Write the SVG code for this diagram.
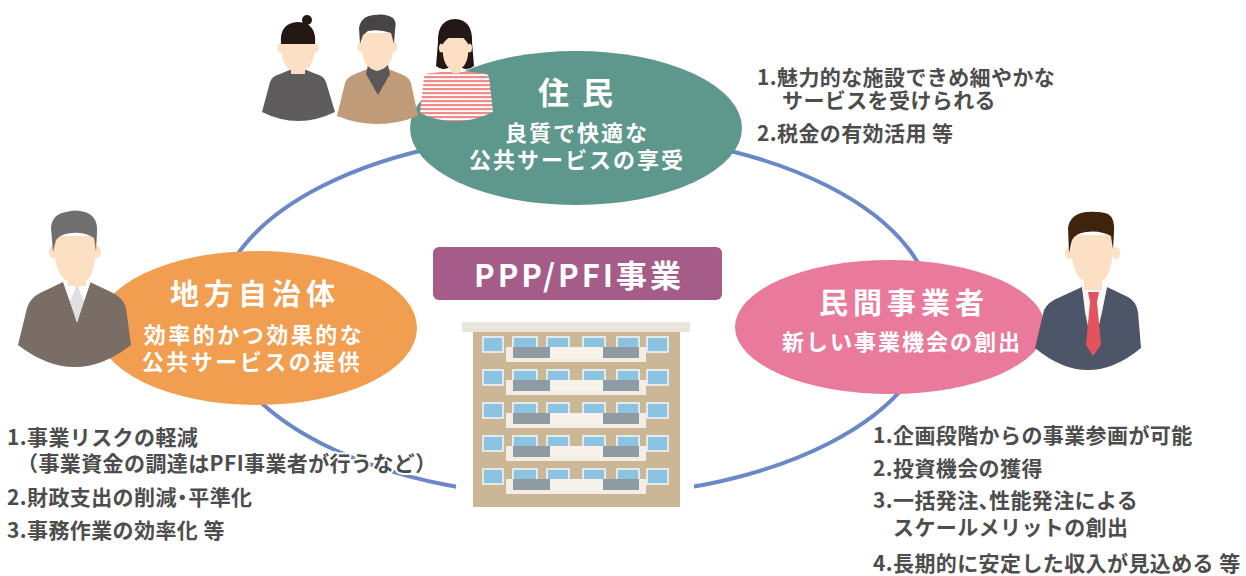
<svg xmlns="http://www.w3.org/2000/svg" width="1246" height="576" viewBox="0 0 1246 576">
  <defs>
    <style>
      .skin { fill: #fde0c3; }
      .title { font-family: "Noto Sans CJK JP", "Noto Sans", sans-serif; font-weight: 700; fill: #ffffff; text-anchor: middle; }
      .note { font-family: "Noto Sans CJK JP", "Noto Sans", sans-serif; font-weight: 700; fill: #4d4d4d; font-size: 21px; letter-spacing: 0.4px; stroke: #ffffff; stroke-width: 4px; paint-order: stroke; stroke-linejoin: round; }
      .win { fill: #8cc3e0; stroke: #eef5f8; stroke-width: 1.6; }
      .balc { fill: #f3ede3; }
      .rail { fill: #8e9ba3; }
    </style>
    <pattern id="stripes" width="10" height="4" patternUnits="userSpaceOnUse">
      <rect width="10" height="4" fill="#ffffff"/>
      <rect width="10" height="2.2" fill="#f08b8b"/>
    </pattern>
    <filter id="soft" x="-5%" y="-5%" width="110%" height="110%">
      <feGaussianBlur stdDeviation="0.7"/>
    </filter>
  </defs>

  <rect width="1246" height="576" fill="#ffffff"/>

  <!-- connectors: the ring linking the three parties -->
  <g id="connectors">
    <ellipse cx="575" cy="315" rx="358" ry="182" fill="none" stroke="#6a88c8" stroke-width="4"/>
  </g>

  <!-- building -->
  <g id="building">
    <rect x="456" y="316" width="238" height="196" fill="#ffffff"/>
    <g filter="url(#soft)">
      <rect x="462" y="322" width="228" height="10" fill="#e9e5dd"/>
      <rect x="473" y="332" width="207" height="175" fill="#cbb696"/>
      <g id="floor">
        <rect class="win" x="483" y="337" width="20" height="15"/>
        <rect class="win" x="513" y="337" width="24" height="15"/>
        <rect class="win" x="547" y="337" width="22" height="15"/>
        <rect class="win" x="583" y="337" width="22" height="15"/>
        <rect class="win" x="617" y="337" width="22" height="15"/>
        <rect class="win" x="647" y="337" width="21" height="15"/>
        <rect class="balc" x="506" y="347" width="140" height="15"/>
        <rect class="rail" x="513" y="347" width="37" height="11"/>
        <rect class="rail" x="603" y="347" width="36" height="11"/>
        <rect x="550" y="347" width="53" height="11" fill="#f7f3ec"/>
      </g>
      <use href="#floor" y="33"/>
      <use href="#floor" y="66"/>
      <use href="#floor" y="99"/>
      <use href="#floor" y="132"/>
    </g>
  </g>

  <!-- residents -->
  <g id="node-residents">
    <ellipse cx="576" cy="128" rx="166" ry="77" fill="#5e978b"/>
    <text class="title" x="577" y="104" font-size="31" letter-spacing="3">住 民</text>
    <text class="title" x="577" y="141" font-size="22" letter-spacing="2">良質で快適な</text>
    <text class="title" x="577" y="168" font-size="22" letter-spacing="2">公共サービスの享受</text>
  </g>

  <!-- local government -->
  <g id="node-government">
    <ellipse cx="257" cy="328" rx="160" ry="77" fill="#f19e50"/>
    <text class="title" x="255" y="305" font-size="29" letter-spacing="5">地方自治体</text>
    <text class="title" x="254" y="343" font-size="22" letter-spacing="2.5">効率的かつ効果的な</text>
    <text class="title" x="252" y="370" font-size="22" letter-spacing="2.5">公共サービスの提供</text>
  </g>

  <!-- private operator -->
  <g id="node-operator">
    <ellipse cx="890" cy="327" rx="155" ry="67" fill="#e97a9b"/>
    <text class="title" x="904" y="314" font-size="29" letter-spacing="5">民間事業者</text>
    <text class="title" x="902" y="350" font-size="22" letter-spacing="2">新しい事業機会の創出</text>
  </g>

  <!-- central label -->
  <g id="node-ppp">
    <rect x="433" y="247" width="289" height="53" rx="6" fill="#a55c88"/>
    <text class="title" x="579" y="287" font-size="31" letter-spacing="3">PPP/PFI事業</text>
  </g>

  <!-- residents: three figures -->
  <g id="people-residents">
    <!-- woman with bun -->
    <path d="M262,112 L270,82 Q272,76 280,74 L292,69 L304,69 L316,74 Q324,76 326,82 L335,112 Q298,130 262,112 Z" fill="#5e5c5d"/>
    <rect class="skin" x="291" y="62" width="14" height="12"/>
    <ellipse class="skin" cx="281" cy="48" rx="3.5" ry="5"/>
    <ellipse class="skin" cx="315" cy="48" rx="3.5" ry="5"/>
    <path class="skin" d="M282,36 L282,55 Q284,70 298,73 Q312,70 314,55 L314,36 Z"/>
    <circle cx="307" cy="20" r="5" fill="#231815"/>
    <path d="M281,44 Q279,23 298,22 Q317,23 315,44 Z" fill="#231815"/>

    <!-- man in the middle -->
    <path d="M337,116 L345,83 Q347,77 355,74 L370,68 L386,68 L401,74 Q409,77 411,83 L418,116 Q377,132 337,116 Z" fill="#bf9b79"/>
    <path d="M368,65 L388,65 L390,74 L378,95 L366,74 Z" fill="#595757"/>
    <ellipse class="skin" cx="361" cy="47" rx="3.5" ry="5"/>
    <ellipse class="skin" cx="394" cy="47" rx="3.5" ry="5"/>
    <path class="skin" d="M362,33 L362,52 Q364,68 377,71 Q391,68 393,52 L393,33 Z"/>
    <path d="M360,44 L359,28 Q361,16 374,15 Q386,13 393,18 Q397,22 395,30 L394,44 L391,33 Q380,29 368,31 L363,35 Z" fill="#474445"/>

    <!-- woman in striped shirt -->
    <path d="M438,42 Q437,20 455,19 Q473,20 472,42 L474,66 Q468,71 462,68 L448,68 Q442,71 436,66 Z" fill="#231815"/>
    <rect class="skin" x="450" y="64" width="11" height="11"/>
    <path d="M424,77 Q425,73 432,73 L450,71 Q456,76 462,71 L480,73 Q488,73 489,77 L493,112 Q456,130 420,113 Z" fill="url(#stripes)"/>
    <ellipse class="skin" cx="442" cy="48" rx="3" ry="4.5"/>
    <ellipse class="skin" cx="469" cy="48" rx="3" ry="4.5"/>
    <path class="skin" d="M443,38 L443,55 Q445,69 455,71 Q466,69 468,55 L468,38 Z"/>
    <path d="M442,45 Q440,22 455,21 Q470,22 469,45 Q463,36 457,34 Q448,36 442,45 Z" fill="#231815"/>
  </g>

  <!-- government official -->
  <g id="person-government">
    <path d="M18,345 L27,308 Q30,298 40,293 L63,282 L77,322 L90,282 L113,293 Q123,298 126,308 L131,345 Q75,389 18,345 Z" fill="#7a6d65"/>
    <path d="M64,283 L90,283 L77,323 Z" fill="#dfe0e2"/>
    <path d="M63,281 L76,287 L70,301 Z" fill="#ffffff"/>
    <path d="M91,281 L78,287 L84,301 Z" fill="#ffffff"/>
    <ellipse class="skin" cx="53" cy="252" rx="4" ry="6"/>
    <ellipse class="skin" cx="97" cy="252" rx="4" ry="6"/>
    <path class="skin" d="M55,236 L55,258 Q58,277 68,281 L68,286 L86,286 L86,281 Q93,277 95,258 L95,236 Z"/>
    <path d="M53,252 L51,228 Q52,214 66,212 Q75,209 85,212 Q98,216 97,232 L96,252 L94,238 Q85,232 72,233 Q60,234 56,240 Z" fill="#707070"/>
  </g>

  <!-- private operator figure -->
  <g id="person-operator">
    <path d="M1035,348 L1044,310 Q1048,302 1058,298 L1082,287 L1093,352 L1107,287 L1128,297 Q1136,301 1138,312 L1141,348 Q1088,392 1035,348 Z" fill="#4d5568"/>
    <path d="M1082,286 L1107,286 L1102,312 L1093,350 L1085,312 Z" fill="#f7f7f7"/>
    <path d="M1088,292 L1099,292 L1097,302 L1090,302 Z" fill="#e2535e"/>
    <path d="M1090,302 L1097,302 L1101,345 L1093,356 L1086,345 Z" fill="#e2535e"/>
    <ellipse class="skin" cx="1069" cy="253" rx="4" ry="6"/>
    <ellipse class="skin" cx="1116" cy="253" rx="4" ry="6"/>
    <path class="skin" d="M1072,235 L1072,258 Q1075,277 1084,281 L1084,290 L1102,290 L1102,281 Q1110,277 1112,258 L1112,235 Z"/>
    <path d="M1069,253 L1068,228 Q1070,214 1086,212 Q1100,211 1108,214 Q1115,218 1114,232 L1113,250 L1111,236 Q1100,230 1086,232 Q1076,233 1072,240 Z" fill="#40230f"/>
  </g>

  <!-- benefits for residents -->
  <g id="notes-residents">
    <text class="note" x="757" y="85">1.魅力的な施設できめ細やかな</text>
    <text class="note" x="782" y="108">サービスを受けられる</text>
    <text class="note" x="757" y="141">2.税金の有効活用 等</text>
  </g>

  <!-- benefits for government -->
  <g id="notes-government">
    <text class="note" x="7" y="445">1.事業リスクの軽減</text>
    <text class="note" x="17" y="471">（事業資金の調達はPFI事業者が行うなど）</text>
    <text class="note" x="7" y="505">2.財政支出の削減<tspan dx="-5">・</tspan><tspan dx="-5">平準化</tspan></text>
    <text class="note" x="7" y="538">3.事務作業の効率化 等</text>
  </g>

  <!-- benefits for operator -->
  <g id="notes-operator">
    <text class="note" x="873" y="443">1.企画段階からの事業参画が可能</text>
    <text class="note" x="873" y="476">2.投資機会の獲得</text>
    <text class="note" x="873" y="508">3.一括発注、<tspan dx="-11">性能発注による</tspan></text>
    <text class="note" x="893" y="535">スケールメリットの創出</text>
    <text class="note" x="873" y="571">4.長期的に安定した収入が見込める 等</text>
  </g>
</svg>
